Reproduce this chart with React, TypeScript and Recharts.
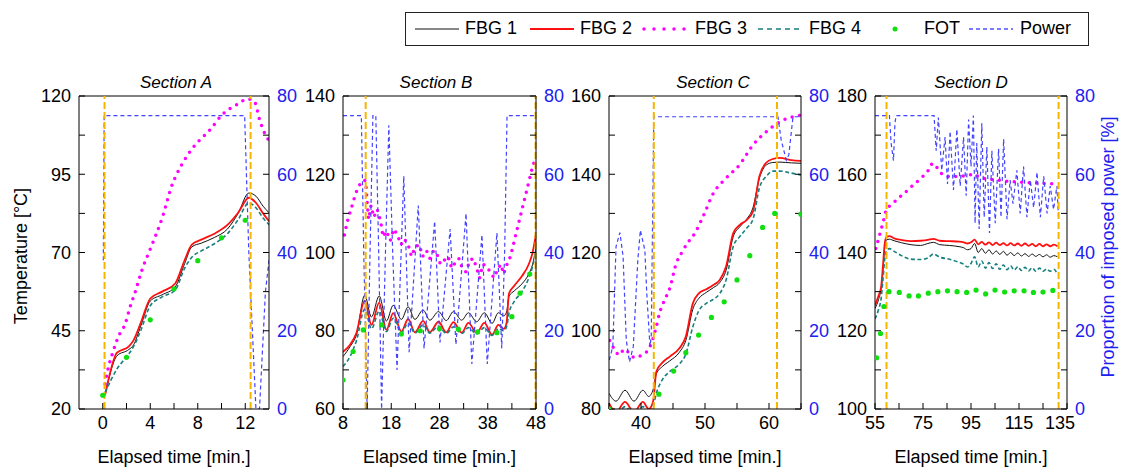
import { ComposedChart, Line, Scatter, XAxis, YAxis, ReferenceLine, Label } from "recharts"

// ---------- Section A ----------
const aFbgTime = [0.2, 1.2, 2.2, 2.6, 3.2, 4.0, 5.0, 6.1, 6.9, 7.5, 8.3, 9.4, 10.5, 11.4, 12.3, 12.9, 13.5, 14]
const aFbg1 = [24.5, 37.0, 39.0, 40.5, 46.5, 54.5, 56.5, 59.0, 66.5, 71.8, 73.0, 74.8, 77.5, 82.5, 89.0, 88.0, 84.8, 82.7]
const aFbg2 = [24.5, 38.0, 40.0, 42.0, 47.5, 55.3, 57.5, 60.1, 67.6, 72.5, 74.1, 76.0, 78.8, 82.7, 87.5, 85.9, 82.5, 80.0]
const aFbg4 = [25.3, 32.8, 37.6, 40.0, 45.1, 53.0, 55.8, 58.0, 65.0, 68.5, 70.5, 72.8, 76.0, 80.5, 85.8, 84.3, 81.0, 78.9]
const aFbg3Time = [0.2, 0.4, 0.9, 1.3, 1.9, 2.3, 2.7, 3.3, 4.1, 5.0, 5.8, 6.6, 7.5, 9.1, 10.0, 11.4, 12.2, 12.8, 13.2, 13.6, 14]
const aFbg3 = [28, 32, 38.7, 43, 47.3, 52.6, 57, 64.4, 72, 81, 91.2, 97.7, 103, 109.5, 113.8, 117.5, 119.1, 118, 112.5, 108.4, 105.7]
const aFotTime = [0, 2, 4, 6, 8, 10, 12]
const aFot = [24.4, 36.5, 48.5, 58.4, 67.4, 74.7, 80.3]
const aPowTime = [0.05, 0.12, 11.95, 12.3, 12.9, 13.2, 13.7, 14]
const aPow = [38, 75, 75, 40, 0, 0, 30, 38]
const aMarks = [0.15, 12.45]

// ---------- Section B ----------
const bFbgTime = [8, 9.5, 10.8, 12.5, 13.9, 15.5, 17.0, 18.4, 20.1, 21.5, 22.9, 24.6, 26.0, 27.8, 29.4, 30.9, 32.6, 34.0, 35.7, 37.3, 38.9, 40.2, 41.3, 41.9, 42.4, 43.5, 45.1, 46.5, 47.3, 48]
const bFbg1 = [73.4, 76.0, 79.0, 89.1, 83.5, 88.9, 82.5, 86.5, 82.9, 86.1, 82.9, 85.3, 82.7, 84.9, 82.6, 84.9, 82.7, 84.6, 82.3, 84.6, 81.9, 84.6, 83.8, 84.8, 88.8, 90.2, 92.0, 94.5, 97.0, 101.0]
const bFbg2 = [74.6, 76.5, 79.5, 87.7, 81.5, 87.2, 80.2, 84.5, 79.8, 83.0, 79.6, 82.5, 79.6, 82.3, 79.6, 82.2, 79.5, 82.0, 79.5, 82.0, 79.0, 81.5, 80.5, 82.0, 89.5, 91.5, 94.0, 97.0, 100.0, 104.8]
const bFbg4 = [70.9, 73.5, 77.5, 85.5, 80.5, 85.0, 79.8, 83.2, 79.5, 82.0, 79.4, 81.5, 79.4, 81.2, 79.3, 81.0, 79.3, 80.8, 79.2, 80.8, 78.8, 80.5, 80.0, 81.0, 84.5, 87.5, 90.0, 93.5, 96.5, 101.0]
const bFbg3Time = [8.3, 8.8, 9.4, 10, 10.6, 11.3, 12.2, 12.7, 13.0, 13.3, 13.8, 14.4, 15.1, 15.8, 16.3, 17, 17.8, 18.5, 19.3, 20, 20.7, 21.5, 22.2, 23, 23.8, 24.5, 25.3, 26, 26.8, 27.5, 28.2, 29, 29.8, 30.5, 31.3, 32, 32.7, 33.5, 34.3, 35, 35.7, 36.3, 37, 37.8, 38.5, 39.3, 40, 40.7, 41.3, 42, 42.7, 43.3, 44, 44.7, 45.3, 46, 46.7, 47.3, 48]
const bFbg3 = [104.5, 107.5, 110, 112.5, 115, 117, 118.5, 118.3, 113, 108.5, 112, 109, 111, 108, 104, 105.5, 103, 106, 104.5, 102, 103.5, 102, 99, 101.5, 102, 99, 100.5, 98.5, 100.5, 99.5, 97, 98, 99, 96, 97.5, 98.5, 96, 95, 98, 98.5, 96, 93.5, 97, 96.5, 95, 93.5, 95.5, 97, 94.5, 97, 99, 102, 105.5, 109, 112, 115.5, 119, 122, 124.5]
const bFotTime = [8, 10.1, 12.2, 16.0, 20.1, 24.0, 28.0, 31.9, 35.9, 39.9, 43.0, 44.7, 46.7]
const bFot = [67.4, 74.7, 80.2, 81.5, 79.2, 80.0, 80.5, 80.4, 79.7, 79.5, 83.6, 89.6, 94.5]
const bPowTime = [8, 11.8, 12.3, 13.0, 13.6, 14.2, 14.8, 15.4, 16.0, 16.8, 17.5, 18.3, 19.2, 20.6, 21.7, 23.6, 24.8, 27.0, 28.1, 30.2, 31.4, 33.5, 34.7, 36.8, 37.9, 39.9, 40.9, 41.5, 42.0, 48]
const bPow = [75, 75, 40, 0, 40, 75, 75, 40, 0, 40, 72.5, 40, 10, 59.5, 14.5, 52, 15.5, 48, 17, 46, 16.5, 50, 11.5, 44.5, 11.5, 45, 15.5, 40, 75, 75]
const bMarks = [12.7, 47.9]

// ---------- Section C ----------
const cFbgTime = [35, 36.1, 37.5, 38.9, 40.3, 41.2, 41.9, 42.4, 43.3, 44.5, 46.0, 47.0, 48.1, 49.0, 50.2, 51.3, 52.3, 53.3, 54.4, 55.4, 56.5, 57.5, 58.5, 59.6, 60.6, 61.7, 63.5, 65]
const cFbg1 = [84.0, 82.0, 84.8, 82.0, 84.8, 83.2, 85.0, 89.0, 90.8, 92.3, 94.5, 97.5, 105.5, 108.2, 109.8, 111.0, 112.3, 115.5, 124.0, 126.5, 128.5, 131.5, 139.0, 142.4, 143.0, 143.1, 142.9, 142.8]
const cFbg2 = [81.5, 79.2, 81.8, 79.2, 81.8, 80.0, 82.0, 89.6, 91.8, 93.4, 95.5, 98.5, 107.0, 109.5, 110.6, 111.7, 113.0, 116.5, 124.9, 127.0, 128.3, 130.5, 139.5, 143.0, 143.9, 144.2, 143.6, 143.4]
const cFbg4 = [80.5, 78.5, 80.6, 78.5, 80.6, 79.0, 80.8, 84.0, 87.4, 89.6, 91.5, 94.0, 101.0, 105.0, 107.0, 108.0, 109.5, 113.0, 121.5, 124.0, 126.2, 128.5, 136.5, 139.5, 140.8, 140.8, 140.3, 139.8]
const cFbg3Time = [35.1, 35.9, 36.6, 37.4, 38.2, 39, 40.1, 41.1, 41.9, 42.4, 42.9, 43.7, 44.5, 45.5, 46.3, 47.3, 48.4, 49.7, 51.3, 53.3, 55.4, 57.5, 59.6, 61.7, 63.75, 65]
const cFbg3 = [97.5, 95.1, 93.8, 95.3, 94.2, 93.1, 93.8, 95.1, 98.1, 101.1, 104.5, 107.9, 110.9, 117.2, 119.8, 122.5, 124.9, 129.2, 135.1, 139, 142.4, 147.5, 150.9, 153.4, 154.7, 155.1]
const cFotTime = [35, 42.8, 45.1, 47, 49, 51, 53, 55, 57, 59, 60.9, 65]
const cFot = [80, 83.8, 89.7, 94.4, 98.9, 103.4, 107.4, 113, 119.2, 126.4, 130, 129.8]
const cPowTime = [35.05, 35.6, 36.1, 36.7, 37.2, 37.7, 38.2, 38.8, 39.5, 39.9, 40.6, 40.9, 41.4, 41.6, 42.0, 61.4, 61.9, 62.7, 63.1, 63.75, 65]
const cPow = [12.5, 16, 41.5, 45.1, 39, 17.6, 12, 16, 38, 45.7, 40.6, 29.6, 16, 18.5, 74.7, 74.7, 68.8, 63.6, 65, 74.7, 74.7]
const cMarks = [42.0, 61.25]

// ---------- Section D ----------
const dFbgTime = [55, 56.5, 57.5, 58.3, 59.0, 59.8, 61, 63, 66, 70, 74, 77, 79.3, 82, 86, 90, 92, 93.5, 95, 96.5, 98, 99.5, 101, 102.5, 104, 105.5, 107, 108.5, 110, 111.5, 113, 114.5, 116, 117.5, 119, 120.5, 122, 123.5, 125, 126.5, 128, 129.5, 131]
const dFbg1 = [125.7, 128, 130.5, 135, 141, 143.2, 143.4, 143.0, 142.5, 142.0, 141.8, 142.3, 142.6, 142.0, 141.8, 141.5, 141.2, 140.7, 141.0, 142.3, 140.0, 141.0, 139.8, 140.7, 139.6, 140.4, 139.5, 140.3, 139.3, 140.0, 139.2, 139.9, 139.1, 139.7, 139.0, 139.6, 139.0, 139.5, 138.9, 139.4, 138.8, 139.2, 138.9]
const dFbg2 = [126.5, 129, 131, 136.5, 142, 144.0, 144.2, 143.6, 143.2, 142.9, 143.0, 143.2, 143.5, 143.0, 142.9, 142.8, 142.6, 142.3, 142.6, 143.3, 142.1, 142.7, 142.0, 142.6, 141.9, 142.5, 141.9, 142.4, 141.8, 142.4, 141.8, 142.3, 141.7, 142.3, 141.7, 142.2, 141.6, 142.2, 141.6, 142.1, 141.6, 142.0, 141.6]
const dFbg4 = [123, 125.5, 128, 133, 138, 140.5, 141.0, 140.3, 139.2, 138.3, 138.2, 138.6, 139.6, 138.8, 138.3, 137.5, 137.0, 136.3, 137.2, 138.9, 136.3, 137.8, 136.0, 137.4, 135.9, 137.1, 135.7, 136.8, 135.6, 136.6, 135.5, 136.4, 135.4, 136.2, 135.3, 136.1, 135.2, 136.0, 135.2, 135.8, 135.2, 135.7, 134.5]
const dFbg3Time = [55.3, 56.4, 57.5, 58.6, 59.8, 62, 65, 68, 71, 74, 77, 79.1, 80.5, 82, 84, 86, 88, 90, 92, 94, 96, 98, 100, 103, 106, 109, 112, 115, 118, 121, 124, 127, 130]
const dFbg3 = [141, 143.3, 145.8, 148.3, 151, 152.3, 154, 155.6, 157.3, 158.9, 160.8, 162.8, 162, 160.6, 159.7, 159.4, 159.4, 159.4, 159.6, 159.7, 160.1, 159.4, 159.0, 158.7, 158.5, 158.3, 158.1, 158.0, 157.9, 157.8, 157.7, 157.6, 157.5]
const dFotTime = [55.7, 57.3, 58.7, 60.8, 65.1, 69.2, 73.1, 77.2, 81.2, 85.2, 89.2, 93.2, 97.1, 101.1, 105, 109, 113, 117.1, 121, 125, 129.1]
const dFot = [113.1, 119.3, 126.2, 130, 129.8, 128.9, 128.9, 129.6, 130, 130.2, 130, 129.8, 130.4, 129.4, 130.4, 129.9, 130.2, 130.2, 129.8, 129.9, 130.3]
const dPowTime = [55, 61, 61.7, 62.7, 63.3, 63.8, 79.1, 79.6, 80.5, 81.4, 82.8, 84.2, 85.2, 86.3, 87.7, 89.1, 90.5, 91.9, 93, 94, 95, 96, 96.7, 97.4, 98.4, 99.5, 100.5, 101.6, 102.7, 103.7, 105.1, 106.5, 107.5, 108.6, 110, 111.3, 112.5, 114.1, 115.5, 116.9, 118.3, 119.7, 121.1, 122.5, 123.9, 125.3, 126.7, 128, 129.4, 130.8, 131.5]
const dPow = [75, 75, 68, 63.5, 73, 75, 75, 75, 66, 74.5, 61, 69.5, 57.5, 71, 56, 71.5, 57, 69.5, 54.5, 74, 62, 75, 47.5, 68, 46, 73, 49, 67, 45, 66, 47.5, 66.5, 49, 69, 48.5, 58.5, 52.5, 61, 50, 62, 49, 58.5, 51.5, 60.5, 49, 59.5, 50, 57, 51, 57, 48.5]
const dMarks = [59.8, 131.5]

// ---------- axis ticks ----------
const powTicks = [0, 10, 20, 30, 40, 50, 60, 70, 80]
const powLabels = [0, 20, 40, 60, 80]

const FONT = '"Liberation Sans", Arial, Helvetica, sans-serif'
const BLUE = "#2020f0"
const POWER = "#4242ff"
const LW = 50
const RW = 45
const TOP = 10
const PLOT_TOP = 96
const PLOT_H = 313
const XH = 60

type Pt = { x: number; y: number }
const zip = (xs: number[], ys: number[]): Pt[] => xs.map((x, i) => ({ x, y: ys[i] }))

const FotDot = (props: any) => <circle cx={props.cx} cy={props.cy} r={2.6} fill="#10e010" />

interface PanelProps {
  plotLeft: number
  plotW: number
  xDomain: [number, number]
  xTicks: number[]
  xLabels: number[]
  tDomain: [number, number]
  tTicks: number[]
  tLabels: number[]
  fbg1: Pt[]
  fbg2: Pt[]
  fbg3: Pt[]
  fbg4: Pt[]
  fot: Pt[]
  power: Pt[]
  marks: number[]
  fbg3Curve: "monotone" | "linear"
  edgeShift?: number
}

function Panel(p: PanelProps) {
  const width = LW + p.plotW + RW
  // last x label is nudged left in section D so it clears the power axis
  const XTick = (t: any) => {
    const v = t.payload.value as number
    if (!p.xLabels.includes(v)) return <g />
    const dx = v === p.xDomain[1] ? p.edgeShift ?? 0 : 0
    return (
      <text x={t.x + dx} y={t.y} dy="0.71em" textAnchor="middle" fill="#000" fontSize={18}>
        {v}
      </text>
    )
  }
  return (
    <div style={{ position: "absolute", left: p.plotLeft - LW, top: PLOT_TOP - TOP }}>
      <ComposedChart
        width={width}
        height={TOP + PLOT_H + XH}
        margin={{ top: TOP, right: 0, bottom: 0, left: 0 }}
        style={{ fontFamily: FONT }}
      >
        <XAxis
          dataKey="x"
          type="number"
          domain={p.xDomain}
          allowDataOverflow
          ticks={p.xTicks}
          interval={0}
          tick={XTick}
          tickSize={-6}
          tickMargin={13}
          height={XH}
          stroke="#000"
        >
          <Label value="Elapsed time [min.]" position="insideBottom" offset={6} fill="#000" fontSize={18} />
        </XAxis>
        <YAxis
          yAxisId="t"
          dataKey="y"
          orientation="left"
          width={LW}
          domain={p.tDomain}
          allowDataOverflow
          ticks={p.tTicks}
          interval={0}
          tickFormatter={(v: number) => (p.tLabels.includes(v) ? String(v) : "")}
          tickSize={-6}
          tickMargin={14}
          stroke="#000"
          tick={{ fill: "#000", fontSize: 18 }}
        />
        <YAxis
          yAxisId="p"
          orientation="right"
          width={RW}
          domain={[0, 80]}
          allowDataOverflow
          ticks={powTicks}
          interval={0}
          tickFormatter={(v: number) => (powLabels.includes(v) ? String(v) : "")}
          tickSize={-6}
          tickMargin={14}
          stroke="#000"
          tick={{ fill: BLUE, fontSize: 18 }}
        />
        <ReferenceLine yAxisId="t" y={p.tDomain[1]} stroke="#000" />

        <Line data={p.fbg1} dataKey="y" yAxisId="t" type="monotone" stroke="#111" strokeWidth={1}
          dot={false} activeDot={false} isAnimationActive={false} />
        <Line data={p.fbg2} dataKey="y" yAxisId="t" type="monotone" stroke="#ff1010" strokeWidth={1.8}
          dot={false} activeDot={false} isAnimationActive={false} />
        <Line data={p.fbg4} dataKey="y" yAxisId="t" type="monotone" stroke="#17807e" strokeWidth={1.6}
          strokeDasharray="4 2.5" dot={false} activeDot={false} isAnimationActive={false} />
        <Line data={p.fbg3} dataKey="y" yAxisId="t" type={p.fbg3Curve} stroke="#ff00ff" strokeWidth={3.5}
          strokeDasharray="0 7.5" strokeLinecap="round" dot={false} activeDot={false} isAnimationActive={false} />
        <Scatter data={p.fot} dataKey="y" yAxisId="t" fill="#10e010" shape={FotDot} isAnimationActive={false} />
        <Line data={p.power} dataKey="y" yAxisId="p" type="linear" stroke={POWER} strokeWidth={1.2}
          strokeDasharray="4 3" dot={false} activeDot={false} isAnimationActive={false} />
        {p.marks.map((m) => (
          <ReferenceLine key={m} yAxisId="t" x={m} stroke="#f7b500" strokeWidth={2} strokeDasharray="7 3" />
        ))}
      </ComposedChart>
    </div>
  )
}

const titleStyle = (cx: number): React.CSSProperties => ({
  position: "absolute",
  left: cx,
  top: 83,
  transform: "translate(-50%, -50%)",
  fontStyle: "italic",
  fontSize: 17,
  whiteSpace: "nowrap",
})

function LegendSample({ left, kind }: { left: number; kind: string }) {
  const w = 44
  return (
    <svg style={{ position: "absolute", left, top: 22 }} width={w} height={14}>
      {kind === "fbg1" && <line x1={0} y1={7} x2={w} y2={7} stroke="#111" strokeWidth={1.2} />}
      {kind === "fbg2" && <line x1={0} y1={7} x2={w} y2={7} stroke="#ff1010" strokeWidth={2} />}
      {kind === "fbg3" && (
        <line x1={2} y1={7} x2={w} y2={7} stroke="#ff00ff" strokeWidth={3.5} strokeDasharray="0 10" strokeLinecap="round" />
      )}
      {kind === "fbg4" && <line x1={0} y1={7} x2={w} y2={7} stroke="#17807e" strokeWidth={1.6} strokeDasharray="5 4" />}
      {kind === "fot" && <circle cx={7} cy={7} r={2.5} fill="#10e010" />}
      {kind === "power" && <line x1={0} y1={7} x2={w} y2={7} stroke="#5050ff" strokeWidth={1.4} strokeDasharray="4 3" />}
    </svg>
  )
}

const legendText = (left: number): React.CSSProperties => ({
  position: "absolute",
  left,
  top: 18,
  fontSize: 18,
  lineHeight: "20px",
  whiteSpace: "nowrap",
})

export default function App() {
  return (
    <div
      style={{
        position: "absolute",
        left: 0,
        top: 0,
        width: 1123,
        height: 468,
        background: "#fff",
        fontFamily: FONT,
        color: "#000",
        overflow: "hidden",
      }}
    >
      {/* legend box */}
      <div style={{ position: "absolute", left: 405, top: 12, width: 682, height: 32, border: "1px solid #222" }} />
      <LegendSample left={415} kind="fbg1" />
      <div style={legendText(465)}>FBG 1</div>
      <LegendSample left={530} kind="fbg2" />
      <div style={legendText(580)}>FBG 2</div>
      <LegendSample left={642} kind="fbg3" />
      <div style={legendText(695)}>FBG 3</div>
      <LegendSample left={758} kind="fbg4" />
      <div style={legendText(809)}>FBG 4</div>
      <LegendSample left={888} kind="fot" />
      <div style={legendText(924)}>FOT</div>
      <LegendSample left={969} kind="power" />
      <div style={legendText(1020)}>Power</div>

      <div style={titleStyle(176)}>Section A</div>
      <div style={titleStyle(436)}>Section B</div>
      <div style={titleStyle(713)}>Section C</div>
      <div style={titleStyle(971)}>Section D</div>

      <div
        style={{
          position: "absolute",
          left: 21,
          top: 256,
          transform: "translate(-50%, -50%) rotate(-90deg)",
          fontSize: 18,
          whiteSpace: "nowrap",
        }}
      >
        Temperature [°C]
      </div>
      <div
        style={{
          position: "absolute",
          left: 1108,
          top: 247,
          transform: "translate(-50%, -50%) rotate(-90deg)",
          fontSize: 18,
          color: BLUE,
          whiteSpace: "nowrap",
        }}
      >
        Proportion of imposed power [%]
      </div>

      <Panel
        plotLeft={79}
        plotW={190}
        xDomain={[-2, 14]}
        xTicks={[0, 2, 4, 6, 8, 10, 12]}
        xLabels={[0, 4, 8, 12]}
        tDomain={[20, 120]}
        tTicks={[20, 32.5, 45, 57.5, 70, 82.5, 95, 107.5, 120]}
        tLabels={[20, 45, 70, 95, 120]}
        fbg1={zip(aFbgTime, aFbg1)}
        fbg2={zip(aFbgTime, aFbg2)}
        fbg3={zip(aFbg3Time, aFbg3)}
        fbg4={zip(aFbgTime, aFbg4)}
        fot={zip(aFotTime, aFot)}
        power={zip(aPowTime, aPow)}
        marks={aMarks}
        fbg3Curve="monotone"
      />
      <Panel
        plotLeft={343}
        plotW={193}
        xDomain={[8, 48]}
        xTicks={[8, 13, 18, 23, 28, 33, 38, 43, 48]}
        xLabels={[8, 18, 28, 38, 48]}
        tDomain={[60, 140]}
        tTicks={[60, 70, 80, 90, 100, 110, 120, 130, 140]}
        tLabels={[60, 80, 100, 120, 140]}
        fbg1={zip(bFbgTime, bFbg1)}
        fbg2={zip(bFbgTime, bFbg2)}
        fbg3={zip(bFbg3Time, bFbg3)}
        fbg4={zip(bFbgTime, bFbg4)}
        fot={zip(bFotTime, bFot)}
        power={zip(bPowTime, bPow)}
        marks={bMarks}
        fbg3Curve="linear"
      />
      <Panel
        plotLeft={609}
        plotW={192}
        xDomain={[35, 65]}
        xTicks={[35, 40, 45, 50, 55, 60, 65]}
        xLabels={[40, 50, 60]}
        tDomain={[80, 160]}
        tTicks={[80, 90, 100, 110, 120, 130, 140, 150, 160]}
        tLabels={[80, 100, 120, 140, 160]}
        fbg1={zip(cFbgTime, cFbg1)}
        fbg2={zip(cFbgTime, cFbg2)}
        fbg3={zip(cFbg3Time, cFbg3)}
        fbg4={zip(cFbgTime, cFbg4)}
        fot={zip(cFotTime, cFot)}
        power={zip(cPowTime, cPow)}
        marks={cMarks}
        fbg3Curve="monotone"
      />
      <Panel
        plotLeft={875}
        plotW={192}
        xDomain={[55, 135]}
        xTicks={[55, 65, 75, 85, 95, 105, 115, 125, 135]}
        xLabels={[55, 75, 95, 115, 135]}
        tDomain={[100, 180]}
        tTicks={[100, 110, 120, 130, 140, 150, 160, 170, 180]}
        tLabels={[100, 120, 140, 160, 180]}
        fbg1={zip(dFbgTime, dFbg1)}
        fbg2={zip(dFbgTime, dFbg2)}
        fbg3={zip(dFbg3Time, dFbg3)}
        fbg4={zip(dFbgTime, dFbg4)}
        fot={zip(dFotTime, dFot)}
        power={zip(dPowTime, dPow)}
        marks={dMarks}
        fbg3Curve="monotone"
        edgeShift={-7}
      />
    </div>
  )
}
